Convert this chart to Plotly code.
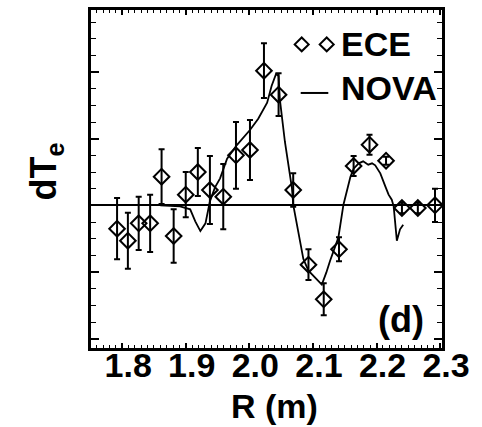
import plotly.graph_objects as go

# ECE measurements: major radius (m), temperature perturbation, error
ece_r = [1.792, 1.809, 1.826, 1.844, 1.862, 1.881, 1.900, 1.919, 1.938, 1.959,
         1.979, 2.001, 2.023, 2.046, 2.069, 2.093, 2.117, 2.141, 2.164, 2.189,
         2.215, 2.240, 2.265, 2.292]
ece_dte = [-0.35, -0.53, -0.27, -0.27, 0.43, -0.46, 0.16, 0.50, 0.23, 0.13,
           0.75, 0.83, 2.02, 1.66, 0.23, -0.89, -1.41, -0.66, 0.59, 0.91,
           0.67, -0.04, -0.04, 0.00]
ece_err = [0.46, 0.42, 0.40, 0.43, 0.41, 0.40, 0.34, 0.36, 0.51, 0.49,
           0.50, 0.45, 0.41, 0.32, 0.25, 0.23, 0.24, 0.18, 0.15, 0.15,
           0.06, 0.08, 0.08, 0.25]

# NOVA eigenmode profile
nova_r = [1.860, 1.878, 1.891, 1.907, 1.915, 1.923, 1.931, 1.938, 1.946, 1.954,
          1.965, 1.980, 2.001, 2.014, 2.028, 2.035, 2.042, 2.046, 2.048, 2.056,
          2.067, 2.069, 2.077, 2.085, 2.093, 2.103, 2.114, 2.121, 2.127, 2.140,
          2.148, 2.159, 2.164, 2.172, 2.179, 2.187, 2.193, 2.198, 2.206, 2.214,
          2.219, 2.224, 2.227, 2.232, 2.237, 2.242]
nova_dte = [0.00, -0.015, -0.015, -0.06, -0.24, -0.386, -0.27, 0.06, 0.27, 0.405,
            0.70, 0.90, 1.13, 1.30, 1.54, 1.79, 1.97, 1.94, 1.59, 0.95,
            0.26, 0.01, -0.415, -0.806, -0.98, -1.08, -1.19, -1.01, -0.83, -0.485,
            0.01, 0.43, 0.55, 0.63, 0.66, 0.61, 0.63, 0.60, 0.48, 0.28,
            0.16, 0.085, -0.015, -0.53, -0.36, -0.29]

x_ticks = [1.8, 1.9, 2.0, 2.1, 2.2, 2.3]
x_tick_text = ["1.8", "1.9", "2.0", "2.1", "2.2", "2.3"]

FONT = "Liberation Sans, Arial, sans-serif"
W, H = 482, 427
ML, MR, MT, MB = 91, 40, 7, 79
PW, PH = W - ML - MR, H - MT - MB


def px(x):
    return (x - ML) / PW


def py(y):
    return (H - MB - y) / PH


def tfont(size):
    return dict(family=FONT, size=size, color="black", weight="bold")


fig = go.Figure()

fig.add_trace(go.Scatter(
    x=nova_r, y=nova_dte, mode="lines",
    line=dict(color="black", width=1.8),
    showlegend=False, hoverinfo="skip",
))

fig.add_trace(go.Scatter(
    x=ece_r, y=ece_dte, mode="markers",
    marker=dict(symbol="diamond-open", size=12, color="black",
                line=dict(color="black", width=2)),
    error_y=dict(type="data", array=ece_err, visible=True,
                 color="black", thickness=2, width=3),
    showlegend=False,
))

# legend glyphs and labels
shapes = []
for cx in (301.7, 326.7):
    cy = 41.7
    d = 7
    path = (f"M {px(cx - d)} {py(cy)} L {px(cx)} {py(cy - d)} "
            f"L {px(cx + d)} {py(cy)} L {px(cx)} {py(cy + d)} Z")
    shapes.append(dict(type="path", xref="paper", yref="paper", path=path,
                       line=dict(color="black", width=2)))
shapes.append(dict(type="line", xref="paper", yref="paper",
                   x0=px(300.7), x1=px(328.3), y0=py(90.7), y1=py(90.7),
                   line=dict(color="black", width=2)))

annotations = [
    dict(text="ECE", x=px(339), y=py(41), xref="paper", yref="paper",
         xanchor="left", yanchor="middle", showarrow=False, font=tfont(34)),
    dict(text="NOVA", x=px(339), y=py(86), xref="paper", yref="paper",
         xanchor="left", yanchor="middle", showarrow=False, font=tfont(34)),
    dict(text="(d)", x=px(401), y=py(319), xref="paper", yref="paper",
         xanchor="center", yanchor="middle", showarrow=False, font=tfont(36)),
    dict(text="R (m)", x=px(274), y=py(407), xref="paper", yref="paper",
         xanchor="center", yanchor="middle", showarrow=False, font=tfont(34)),
    dict(text="dT<sub>e</sub>", x=px(46), y=py(170), xref="paper", yref="paper",
         xanchor="center", yanchor="middle", showarrow=False, textangle=-90,
         font=tfont(36)),
]

fig.update_layout(
    width=W, height=H,
    margin=dict(l=ML, r=MR, t=MT, b=MB, pad=0),
    paper_bgcolor="white", plot_bgcolor="white",
    shapes=shapes, annotations=annotations,
    showlegend=False,
)

fig.update_xaxes(
    range=[1.751, 2.303],
    tickmode="array", tickvals=x_ticks, ticktext=x_tick_text,
    ticks="inside", ticklen=5, tickwidth=1.5, tickcolor="black",
    minor=dict(dtick=0.01, tick0=1.8, ticks="inside", ticklen=3,
               tickwidth=1, tickcolor="black"),
    showline=True, linewidth=3, linecolor="black", mirror="ticks",
    showgrid=False, zeroline=False,
    tickfont=tfont(34),
    ticklabelshift=6, ticklabelstandoff=-15,
)

fig.update_yaxes(
    range=[-2.14, 2.93],
    tick0=0, dtick=1,
    ticks="inside", ticklen=8, tickwidth=1.5, tickcolor="black",
    minor=dict(dtick=0.25, tick0=0, ticks="inside", ticklen=5,
               tickwidth=1, tickcolor="black"),
    showline=True, linewidth=3, linecolor="black", mirror="ticks",
    showgrid=False, showticklabels=False,
    zeroline=True, zerolinecolor="black", zerolinewidth=1.5,
)

fig.write_html("out.html")
